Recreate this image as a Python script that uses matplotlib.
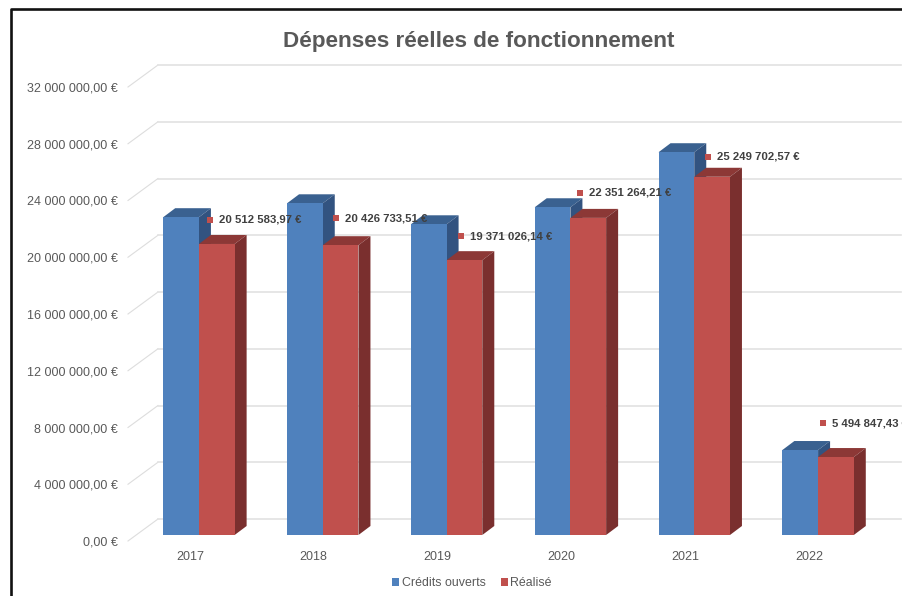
import matplotlib
matplotlib.use("Agg")
import matplotlib.pyplot as plt
from matplotlib.patches import Polygon
from matplotlib.transforms import Affine2D

plt.rcParams["font.family"] = ["Liberation Sans", "DejaVu Sans"]

years = ["2017", "2018", "2019", "2020", "2021", "2022"]
credits_ouverts = [22400000, 23380000, 21900000, 23100000, 26980000, 5990000]
realise = [20512583.97, 20426733.51, 19371026.14, 22351264.21, 25249702.57, 5494847.43]
ticks = [0, 4000000, 8000000, 12000000, 16000000, 20000000, 24000000, 28000000, 32000000]
# ou placer les étiquettes par rapport au haut de la barre rouge (pixels)
label_dx = [-16, -14, -13, -17, -13, -22]
label_dy = [24, 27, 24, 25, 20, 34]

BLUE = ("#4F81BD", "#3A6190", "#325380")
RED = ("#C0504D", "#8C3836", "#7A2F2E")


def fr(v):
    s = f"{v:,.2f}".replace(",", " ").replace(".", ",")
    return s + " €"


fig = plt.figure(figsize=(9.03, 5.96), dpi=100)
ax = fig.add_axes([128 / 903, 55 / 596, 743 / 903, 454 / 596])
ax.set_xlim(-0.5, 5.5)
ax.set_ylim(0, 32000000)
for s in ax.spines.values():
    s.set_visible(False)

# pixels -> unités de données
PX = 1 / 123.83
PY = 32000000 / 454

# grille : oblique sur le plancher puis le long du fond
for t in ticks:
    ax.plot([-0.5, -0.5 + 30 * PX], [t, t + 22 * PY], color="#DDDDDD", lw=0.8,
            clip_on=False, zorder=1)
    ax.plot([-0.5 + 30 * PX, -0.5 + 773 * PX], [t + 22 * PY] * 2, color="#E2E2E2", lw=1.2,
            clip_on=False, zorder=1)

w = 35.7 * PX
shift_x = 9 * PX
base = 6 * PY
dx = 12 * PX
dy = 9 * PY


def bars3d(xs, vals, cols, label, z):
    ax.bar(xs, vals, width=w, bottom=base, align="edge", color=cols[0], label=label,
           zorder=z + 0.2, edgecolor="none")
    for x, v in zip(xs, vals):
        top = v + base
        ax.add_patch(Polygon([(x, top), (x + w, top), (x + w + dx, top + dy), (x + dx, top + dy)],
                             color=cols[1], lw=0, zorder=z))
        ax.add_patch(Polygon([(x + w, base), (x + w + dx, base + dy), (x + w + dx, top + dy), (x + w, top)],
                             color=cols[2], lw=0, zorder=z + 0.1))


pos = list(range(len(years)))
bars3d([i + shift_x - w for i in pos], credits_ouverts, BLUE, "Crédits ouverts", 3)
bars3d([i + shift_x for i in pos], realise, RED, "Réalisé", 4)

# étiquettes de données du Réalisé
for i, v in enumerate(realise):
    x = i + shift_x
    ax.plot([x], [v + base], marker="s", ms=4, color=RED[0], mew=0, zorder=6, clip_on=False,
            transform=ax.transData + Affine2D().translate(label_dx[i] + 27, label_dy[i]))
    ax.annotate(fr(v), xy=(x, v + base), xytext=(label_dx[i] + 36, label_dy[i]),
                textcoords="offset pixels", fontsize=8.2, fontweight="bold", color="#404040",
                va="center", ha="left", zorder=7, annotation_clip=False)

ax.set_xticks(pos, years)
ax.set_yticks(ticks, [fr(t) for t in ticks])
ax.tick_params(axis="both", length=0, labelsize=9, labelcolor="#595959")
ax.tick_params(axis="y", pad=7.2)
ax.tick_params(axis="x", pad=7.2)

fig.text(479 / 903, 1 - 41 / 596, "Dépenses réelles de fonctionnement", fontsize=16.2, fontweight="bold",
         color="#595959", ha="center", va="center")

fig.legend(*ax.get_legend_handles_labels(), loc="center", bbox_to_anchor=(472 / 903, 1 - 583 / 596),
           ncol=2, frameon=False, fontsize=8.9, labelcolor="#595959", handlelength=0.6, handleheight=0.6,
           handletextpad=0.2, columnspacing=1.2)

# cadre de la capture
fig.add_artist(plt.Line2D([11 / 903, 11 / 903, 1], [0, 1 - 9 / 596, 1 - 9 / 596], color="#111111", lw=1.9))

fig.savefig("out.png", dpi=100)
